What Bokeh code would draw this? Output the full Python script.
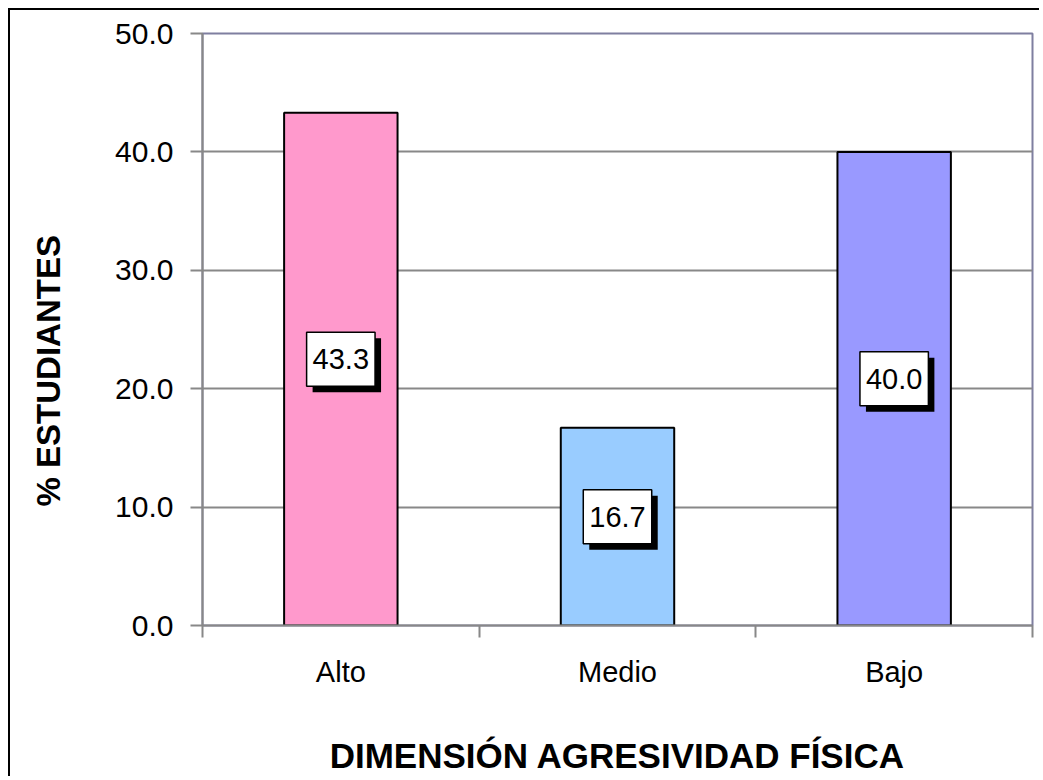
from bokeh.plotting import figure
from bokeh.models import FixedTicker, Range1d, ColumnDataSource
from bokeh.core.properties import value
from bokeh.embed import file_html
from bokeh.resources import INLINE

categories = ["Alto", "Medio", "Bajo"]
percentages = [43.3, 16.7, 40.0]
colors = ["#FF99CC", "#99CCFF", "#9999FF"]
y_ticks = [0, 10, 20, 30, 40, 50]
y_title = "% ESTUDIANTES"
x_title = "DIMENSIÓN AGRESIVIDAD FÍSICA"

FONT = "Liberation Sans"

xs = [i + 0.5 for i in range(len(categories))]
src = ColumnDataSource(dict(
    x=xs,
    top=percentages,
    color=colors,
    mid=[v / 2 for v in percentages],
    label=["%.1f" % v for v in percentages],
))

p = figure(width=1031, height=768, output_backend="svg", toolbar_location=None,
           x_range=Range1d(0, len(categories)), y_range=Range1d(0, 50),
           min_border_left=192, min_border_top=23, min_border_right=9,
           min_border_bottom=153,
           styles={"margin-left": "8px", "margin-top": "8px",
                   "border-left": "2px solid black", "border-top": "2px solid black"})

p.vbar(x="x", top="top", width=0.41, bottom=0, source=src, fill_color="color",
       line_color="black", line_width=2)

# label shadow and box
p.text(x="x", y="mid", text="label", source=src, text_align="center",
       text_baseline="middle", text_font=value(FONT), text_font_size="29px",
       text_color="black", background_fill_color="black", padding=(6, 17),
       x_offset=6, y_offset=-4)
p.text(x="x", y="mid", text="label", source=src, text_align="center",
       text_baseline="middle", text_font=value(FONT), text_font_size="29px",
       text_color="black", background_fill_color="white",
       border_line_color="black", border_line_width=1.5, padding=(6, 17),
       x_offset=0, y_offset=-10)

# frame
p.outline_line_color = "#7F7FA0"
p.outline_line_width = 2
p.background_fill_color = "white"
p.border_fill_color = "white"

# x axis
p.xaxis.ticker = FixedTicker(ticks=xs, minor_ticks=list(range(len(categories) + 1)))
p.xaxis.major_label_overrides = {x: c for x, c in zip(xs, categories)}
p.xaxis.major_tick_out = 0
p.xaxis.major_tick_in = 0
p.xaxis.minor_tick_out = 12
p.xaxis.minor_tick_in = 0
p.xaxis.minor_tick_line_color = "#888888"
p.xaxis.minor_tick_line_width = 2
p.xaxis.axis_line_color = "#888888"
p.xaxis.axis_line_width = 2
p.xaxis.major_label_text_font = FONT
p.xaxis.major_label_text_font_size = "29px"
p.xaxis.major_label_text_color = "black"
p.xaxis.major_label_standoff = 18
p.xaxis.axis_label = x_title
p.xaxis.axis_label_text_font = FONT
p.xaxis.axis_label_text_font_style = "bold"
p.xaxis.axis_label_text_font_size = "35px"
p.xaxis.axis_label_text_color = "black"
p.xaxis.axis_label_standoff = 45

# y axis
p.yaxis.ticker = FixedTicker(ticks=y_ticks, minor_ticks=[])
p.yaxis.major_label_overrides = {t: "%.1f" % t for t in y_ticks}
p.yaxis.major_tick_out = 12
p.yaxis.major_tick_in = 0
p.yaxis.major_tick_line_color = "#888888"
p.yaxis.major_tick_line_width = 2
p.yaxis.axis_line_color = "#888888"
p.yaxis.axis_line_width = 2
p.yaxis.major_label_text_font = FONT
p.yaxis.major_label_text_font_size = "30px"
p.yaxis.major_label_text_color = "black"
p.yaxis.major_label_standoff = 17
# trailing non-breaking spaces push the rotated title down, as in the reference
p.yaxis.axis_label = y_title + "\u00a0" * 9
p.yaxis.axis_label_text_font = FONT
p.yaxis.axis_label_text_font_style = "bold"
p.yaxis.axis_label_text_font_size = "33px"
p.yaxis.axis_label_text_color = "black"
p.yaxis.axis_label_standoff = 45

p.xgrid.grid_line_color = None
p.ygrid.grid_line_color = "#888888"
p.ygrid.grid_line_width = 2

open("out.html", "w").write(file_html(p, INLINE))
